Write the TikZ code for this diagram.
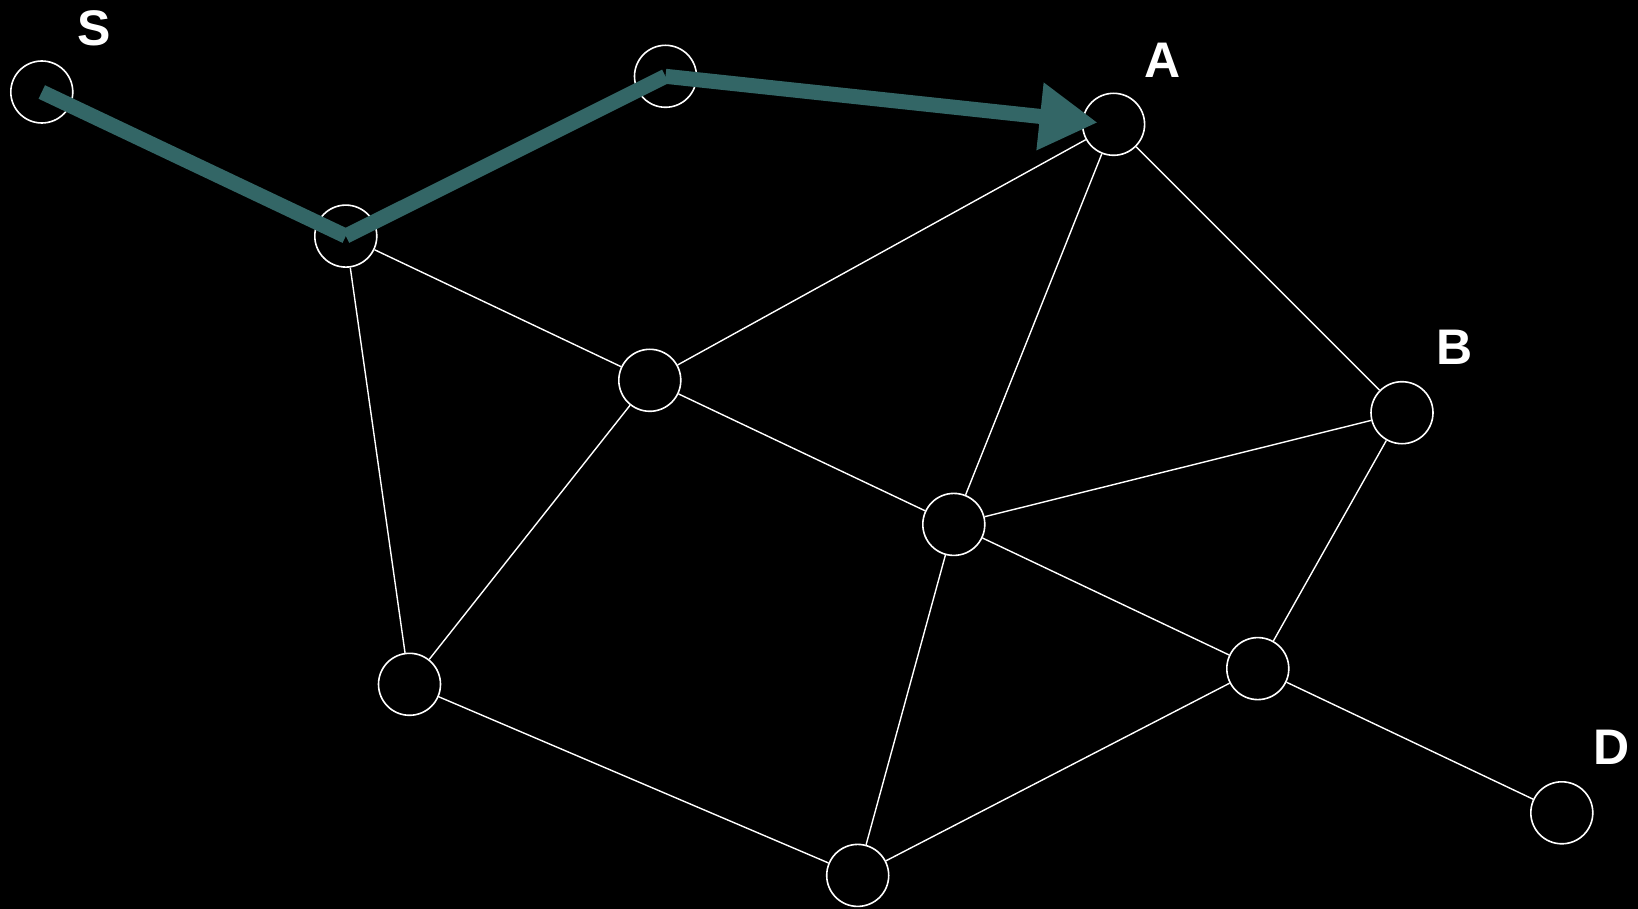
\documentclass[tikz,border=0pt]{standalone}
\usepackage{fontspec}
\setmainfont{Liberation Sans}
\usetikzlibrary{arrows.meta,calc}
\definecolor{pathteal}{RGB}{51,102,102}
\begin{document}
\begin{tikzpicture}[x=1pt,y=-1pt,
  router/.style={circle,draw=white,line width=1.6pt,minimum size=62pt,inner sep=0pt},
  link/.style={draw=white,line width=1.4pt},
  label/.style={text=white,font=\fontsize{50}{50}\selectfont\bfseries,inner sep=0pt},
  route/.style={draw=pathteal,line width=15pt,line cap=butt}]
\fill[black] (0,0) rectangle (1638,909);
\useasboundingbox (0,0) rectangle (1638,909);

% routers
\node[router] (S)  at (41.8,92) {};
\node[router] (n2) at (665.5,76.3) {};
\node[router] (A)  at (1113.6,124.3) {};
\node[router] (n4) at (345.8,236.1) {};
\node[router] (n5) at (649.8,380.3) {};
\node[router] (B)  at (1402,412.7) {};
\node[router] (n7) at (953.8,524.4) {};
\node[router] (n8) at (409.5,684.3) {};
\node[router] (n9) at (1257.8,668.6) {};
\node[router] (D)  at (1561.8,812.8) {};
\node[router] (n11) at (857.7,875.4) {};

% labels
\node[label] (lS) at (94,28) {S};
\node[label] (lA) at (1163,60) {A};
\node[label] (lB) at (1455,347) {B};
\node[label] (lD) at (1612,747) {D};

% links
\path[link] (n4) -- (n5);
\path[link] (n4) -- (n8);
\path[link] (n5) -- (A);
\path[link] (n5) -- (n7);
\path[link] (n5) -- (n8);
\path[link] (A) -- (n7);
\path[link] (A) -- (B);
\path[link] (B) -- (n7);
\path[link] (B) -- (n9);
\path[link] (n7) -- (n9);
\path[link] (n7) -- (n11);
\path[link] (n8) -- (n11);
\path[link] (n9) -- (n11);
\path[link] (n9) -- (D);

% route from S to A
\coordinate (tip) at ($(A.center)!16pt!(n2.center)$);
\path[route] (S.center) -- (n4.center);
\path[route] (n4.center) -- (n2.center);
\path[route,-{Triangle[length=58pt,width=64pt]}] (n2.center) -- (tip);
\end{tikzpicture}
\end{document}
